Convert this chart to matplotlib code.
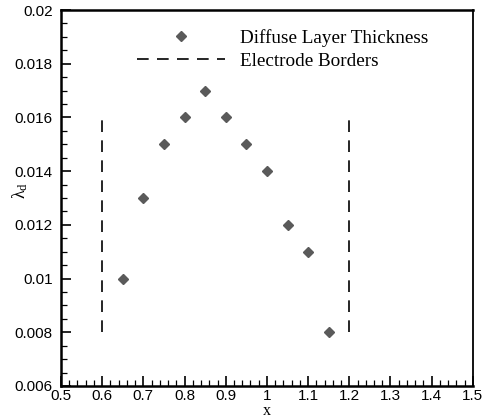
import matplotlib
matplotlib.use("Agg")
import matplotlib.pyplot as plt
from matplotlib.ticker import MultipleLocator, FormatStrFormatter

# diffuse layer thickness along x
x_vals = [0.65, 0.70, 0.75, 0.80, 0.85, 0.90, 0.95, 1.00, 1.05, 1.10, 1.15]
lambda_d = [0.010, 0.013, 0.015, 0.016, 0.017, 0.016, 0.015, 0.014, 0.012, 0.011, 0.008]

# electrode border positions and vertical extent
border_x = [0.6, 1.2]
border_y = [0.008, 0.016]

plt.rcParams['mathtext.fontset'] = 'custom'
plt.rcParams['mathtext.rm'] = 'Liberation Serif'
plt.rcParams['mathtext.it'] = 'Liberation Serif:italic'

fig = plt.figure(figsize=(4.83, 4.19), dpi=100)
ax = fig.add_axes([0.1263, 0.0788, 0.8527, 0.8972])

ax.plot(x_vals, lambda_d, linestyle='none', marker='D', markersize=5,
        color='#5a5a5a', label='Diffuse Layer Thickness')
for i, bx in enumerate(border_x):
    ax.plot([bx, bx], border_y, color='black', linewidth=1.2,
            dashes=(7, 5), label='Electrode Borders' if i == 0 else None)

ax.set_xlim(0.5, 1.5)
ax.set_ylim(0.006, 0.02)
ax.xaxis.set_major_locator(MultipleLocator(0.1))
ax.xaxis.set_minor_locator(MultipleLocator(0.02))
ax.yaxis.set_major_locator(MultipleLocator(0.002))
ax.yaxis.set_minor_locator(MultipleLocator(0.0005))
ax.xaxis.set_major_formatter(FormatStrFormatter('%g'))
ax.yaxis.set_major_formatter(FormatStrFormatter('%g'))

ax.tick_params(which='both', direction='in', top=False, right=False,
               labelsize=11, labelfontfamily='Liberation Sans')
ax.tick_params(which='major', length=7, width=1.2)
ax.tick_params(which='minor', length=4.3, width=0.9)
ax.tick_params(axis='x', which='major', pad=2.5)
ax.tick_params(axis='y', which='major', pad=6)

for side in ['left', 'bottom', 'top']:
    ax.spines[side].set_linewidth(1.8)
ax.spines['right'].set_linewidth(1.3)

ax.set_xlabel('x', fontfamily='Liberation Serif', fontsize=11.5, labelpad=-0.3)
ax.set_ylabel(r'λ$_\mathrm{d}$', fontfamily='Liberation Serif', fontsize=13)
ax.yaxis.set_label_coords(-0.075, 0.52)

leg = ax.legend(loc='upper right', bbox_to_anchor=(0.933, 0.996), frameon=False,
                prop={'family': 'Liberation Serif', 'size': 13.8},
                handlelength=4.6, handletextpad=0.75, labelspacing=0.3)

fig.savefig('out.png', dpi=100)
